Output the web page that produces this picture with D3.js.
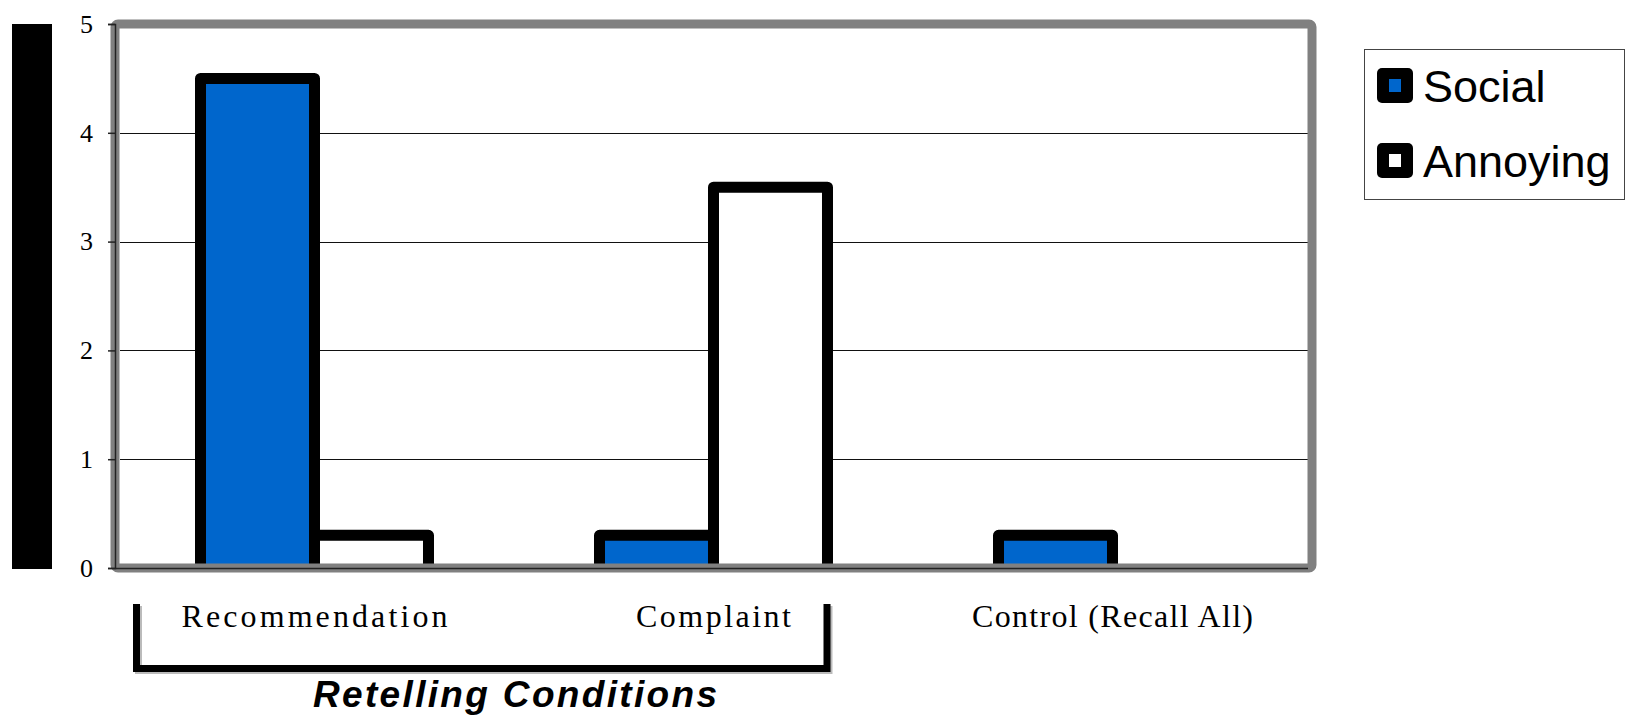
<!DOCTYPE html>
<html>
<head>
<meta charset="utf-8">
<script src="https://cdn.jsdelivr.net/npm/d3@7"></script>
<style>
  html, body { margin: 0; padding: 0; background: #fff; }
  svg { display: block; }
</style>
</head>
<body>
<svg id="chart" width="1629" height="717"></svg>
<script>
// ---- data ----
const categories = ["Recommendation", "Complaint", "Control (Recall All)"];
const seriesNames = ["Social", "Annoying"];
const socialValues = [4.5, 0.3, 0.3];
const annoyingValues = [0.3, 3.5, 0];
const yTickValues = [0, 1, 2, 3, 4, 5];
const groupLabel = "Retelling Conditions";
const seriesColors = ["#0066cc", "#ffffff"];

// ---- layout ----
const svg = d3.select("#chart");
const plot = { left: 115, right: 1312, top: 24, bottom: 568 };

const x0 = d3.scaleBand()
  .domain(categories)
  .range([plot.left, plot.right])
  .paddingInner(0.4286)
  .paddingOuter(0.2143);
const x1 = d3.scaleBand()
  .domain(seriesNames)
  .range([0, x0.bandwidth()]);
const y = d3.scaleLinear().domain([0, 5]).range([plot.bottom, plot.top]);

const rows = categories.map((c, i) => ({
  cat: c,
  values: [
    { key: seriesNames[0], v: socialValues[i], color: seriesColors[0] },
    { key: seriesNames[1], v: annoyingValues[i], color: seriesColors[1] }
  ]
}));

// left black block (rendered y-axis title)
svg.append("rect")
  .attr("x", 12).attr("y", y(5)).attr("width", 40).attr("height", y(0) - y(5) + 1)
  .attr("fill", "#000");

// plot background
svg.append("rect")
  .attr("x", plot.left).attr("y", plot.top)
  .attr("width", plot.right - plot.left).attr("height", plot.bottom - plot.top)
  .attr("fill", "#fff");

// gridlines
svg.append("g").selectAll("line")
  .data(yTickValues.filter(t => t > 0 && t < 5))
  .join("line")
  .attr("x1", plot.left + 5).attr("x2", plot.right - 4)
  .attr("y1", d => Math.round(y(d)) + 0.5).attr("y2", d => Math.round(y(d)) + 0.5)
  .attr("stroke", "#111").attr("stroke-width", 1);

// clip for bars
svg.append("defs").append("clipPath").attr("id", "plotclip")
  .append("rect").attr("x", plot.left).attr("y", 0)
  .attr("width", plot.right - plot.left).attr("height", plot.bottom);

// bars
const gBars = svg.append("g").attr("clip-path", "url(#plotclip)");
gBars.selectAll("g")
  .data(rows)
  .join("g")
  .attr("transform", d => `translate(${x0(d.cat)},0)`)
  .selectAll("rect")
  .data(d => d.values.filter(v => v.v > 0))
  .join("rect")
  .attr("x", d => x1(d.key))
  .attr("y", d => y(d.v))
  .attr("width", x1.bandwidth())
  .attr("height", d => y(0) - y(d.v) + 8)
  .attr("fill", d => d.color)
  .attr("stroke", "#000")
  .attr("stroke-width", 11)
  .attr("stroke-linejoin", "round");

// gray frame
svg.append("rect")
  .attr("x", plot.left).attr("y", plot.top)
  .attr("width", plot.right - plot.left).attr("height", plot.bottom - plot.top)
  .attr("fill", "none")
  .attr("stroke", "#808080").attr("stroke-width", 9)
  .attr("rx", 3).attr("ry", 3);

// y axis
const yAxis = d3.axisLeft(y).tickValues(yTickValues).tickSize(7).tickPadding(15)
  .tickFormat(d3.format("d"));
const gy = svg.append("g").attr("transform", `translate(${plot.left},0)`).call(yAxis);
gy.select(".domain").attr("stroke", "#222").attr("stroke-width", 1.5);
gy.selectAll(".tick line").attr("stroke", "#222").attr("stroke-width", 1.5);
gy.selectAll(".tick text")
  .attr("font-family", "'Liberation Serif', 'Times New Roman', serif")
  .attr("font-size", 26).attr("fill", "#000");

// bottom dark axis line
svg.append("line")
  .attr("x1", plot.left).attr("x2", plot.right - 4)
  .attr("y1", plot.bottom + 0.5).attr("y2", plot.bottom + 0.5)
  .attr("stroke", "#222").attr("stroke-width", 1.5);

// x category labels
const labelWidths = [266, 155, 281];
svg.append("g").selectAll("text")
  .data(categories)
  .join("text")
  .attr("x", (d, i) => x0(d) + x0.bandwidth() / 2 - labelWidths[i] / 2)
  .attr("y", 627)
  .attr("textLength", (d, i) => labelWidths[i])
  .attr("lengthAdjust", "spacing")
  .attr("font-family", "'Liberation Serif', 'Times New Roman', serif")
  .attr("font-size", 32)
  .attr("fill", "#000")
  .text(d => d);

// bracket under retelling conditions
const bx1 = 136.5, bx2 = 827, byTop = 604, byBot = 668.5;
svg.append("path")
  .attr("d", `M${bx1 + 2},${byTop + 2}V${byBot + 2}H${bx2 + 2}V${byTop + 2}`)
  .attr("fill", "none").attr("stroke", "#bbb").attr("stroke-width", 7);
svg.append("path")
  .attr("d", `M${bx1},${byTop}V${byBot}H${bx2}V${byTop}`)
  .attr("fill", "none").attr("stroke", "#000").attr("stroke-width", 7);

// group label
svg.append("text")
  .attr("x", 313).attr("y", 707)
  .attr("textLength", 404).attr("lengthAdjust", "spacing")
  .attr("font-family", "'Liberation Sans', Arial, sans-serif")
  .attr("font-size", 37).attr("font-weight", "bold").attr("font-style", "italic")
  .attr("fill", "#000")
  .text(groupLabel);

// legend
const lg = svg.append("g");
lg.append("rect")
  .attr("x", 1364.5).attr("y", 49.5).attr("width", 260).attr("height", 150)
  .attr("fill", "#fff").attr("stroke", "#444").attr("stroke-width", 1);
const items = lg.selectAll("g.item")
  .data(seriesNames.map((s, i) => ({ s, color: seriesColors[i] })))
  .join("g").attr("class", "item")
  .attr("transform", (d, i) => `translate(1377,${68 + i * 75})`);
items.append("rect")
  .attr("x", 0).attr("y", 0).attr("width", 36).attr("height", 35)
  .attr("rx", 5).attr("fill", "#000");
items.append("rect")
  .attr("x", 12).attr("y", 11).attr("width", 12).attr("height", 13)
  .attr("fill", d => d.color);
items.append("text")
  .attr("x", 46).attr("y", 34)
  .attr("font-family", "'Liberation Sans', Arial, sans-serif")
  .attr("font-size", 45).attr("fill", "#000")
  .text(d => d.s);
</script>
</body>
</html>
